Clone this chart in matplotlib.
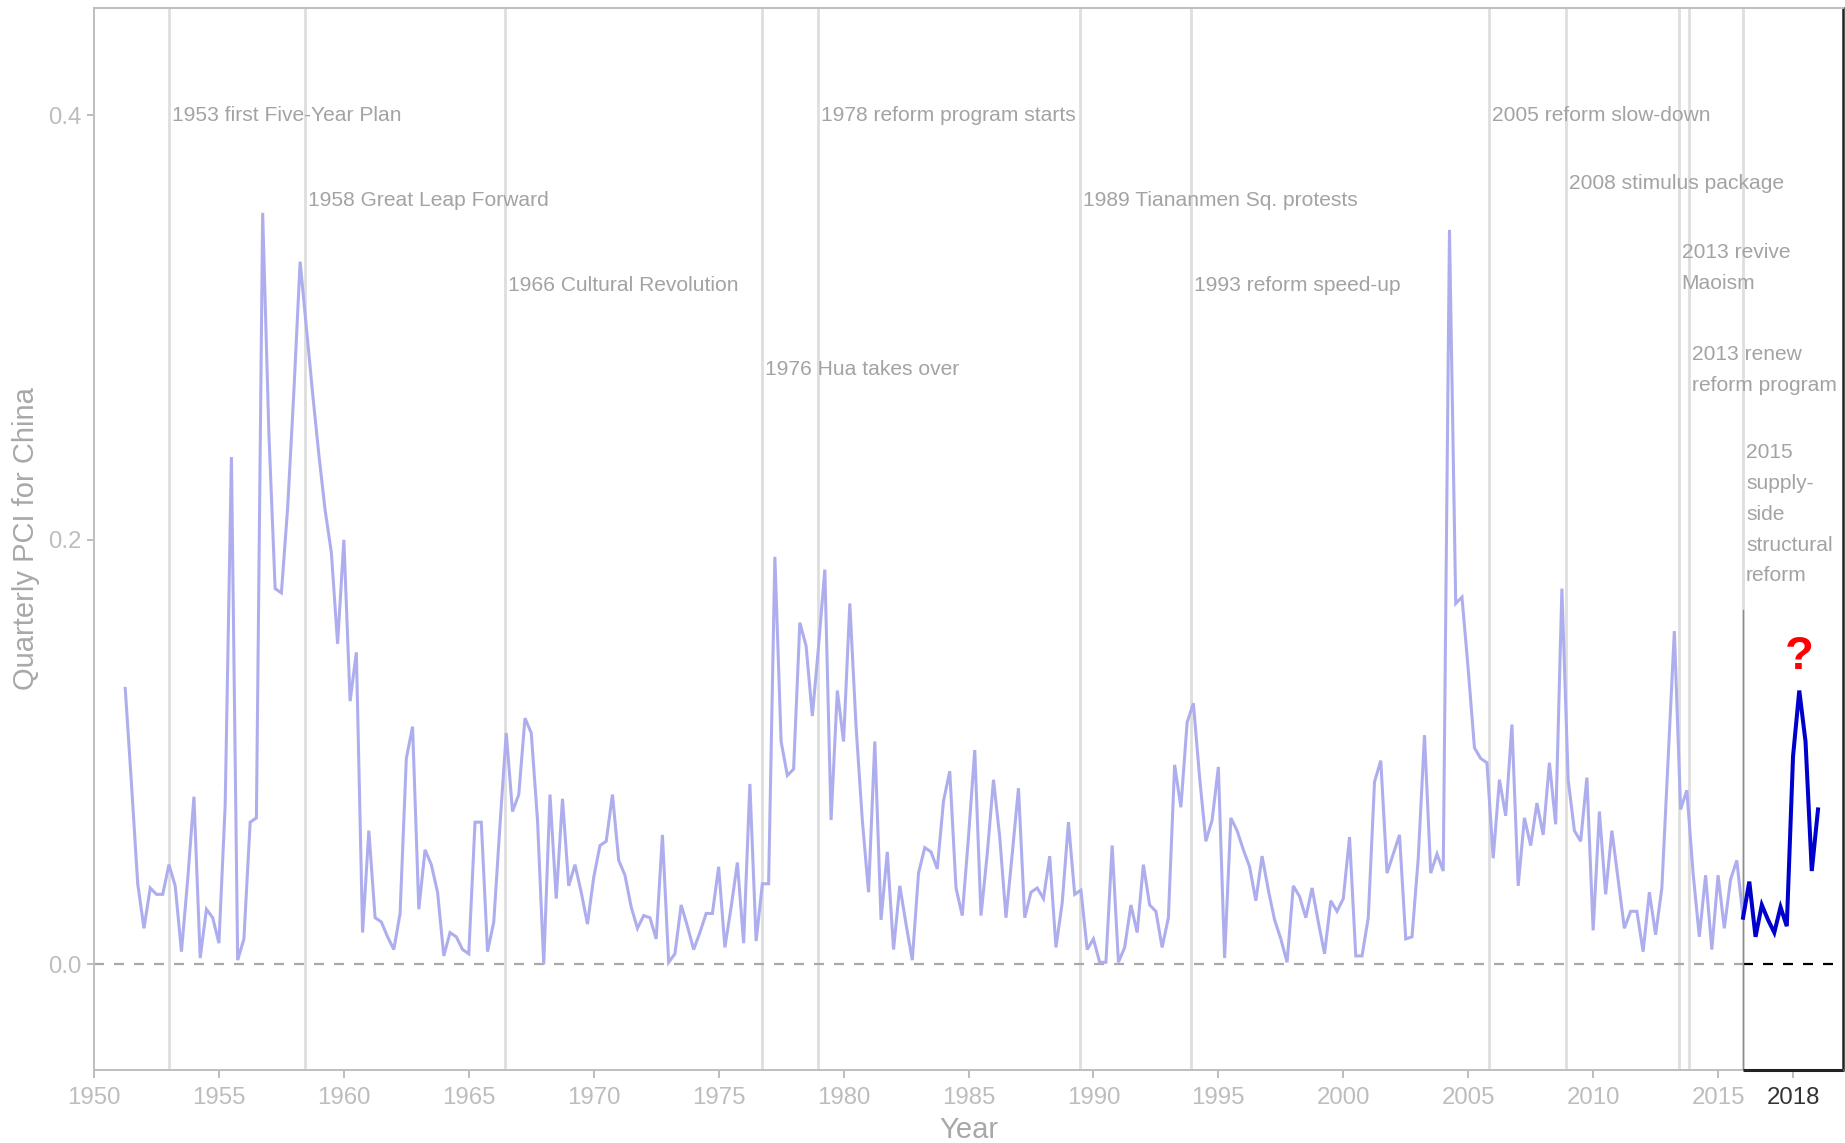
import numpy as np
import matplotlib
matplotlib.use("Agg")
import matplotlib.pyplot as plt

plt.rcParams['font.family'] = ['Liberation Sans', 'DejaVu Sans']

# ---------------- data ----------------
start_year = 1951.25          # first quarter of the historical series
pci_1950s = [0.130, 0.085, 0.038,
             0.017, 0.036, 0.033, 0.033,
             0.047, 0.037, 0.006, 0.040,
             0.079, 0.003, 0.026, 0.022,
             0.010, 0.075, 0.239, 0.002,
             0.012, 0.067, 0.069, 0.354,
             0.250, 0.177, 0.175, 0.215,
             0.270, 0.331, 0.300, 0.269,
             0.240, 0.214, 0.194, 0.151]
pci_1960s = [0.200, 0.124, 0.147, 0.015,
             0.063, 0.022, 0.020, 0.013,
             0.007, 0.024, 0.097, 0.112,
             0.026, 0.054, 0.047, 0.034,
             0.004, 0.015, 0.013, 0.007,
             0.005, 0.067, 0.067, 0.006,
             0.020, 0.066, 0.109, 0.072,
             0.080, 0.116, 0.109, 0.068,
             0.000, 0.080, 0.031, 0.078,
             0.037, 0.047, 0.034, 0.019]
pci_1970s = [0.041, 0.056, 0.058, 0.080,
             0.049, 0.042, 0.027, 0.017,
             0.023, 0.022, 0.012, 0.061,
             0.001, 0.005, 0.028, 0.018,
             0.007, 0.015, 0.024, 0.024,
             0.046, 0.008, 0.027, 0.048,
             0.010, 0.085, 0.011, 0.038,
             0.038, 0.192, 0.105, 0.089,
             0.092, 0.161, 0.150, 0.117,
             0.150, 0.186, 0.068, 0.129]
pci_1980s = [0.105, 0.170, 0.112, 0.068,
             0.034, 0.105, 0.021, 0.053,
             0.007, 0.037, 0.019, 0.002,
             0.043, 0.055, 0.053, 0.045,
             0.077, 0.091, 0.036, 0.023,
             0.060, 0.101, 0.023, 0.052,
             0.087, 0.060, 0.022, 0.052,
             0.083, 0.022, 0.034, 0.036,
             0.031, 0.051, 0.008, 0.029,
             0.067, 0.033, 0.035, 0.007]
pci_1990s = [0.012, 0.001, 0.001, 0.056,
             0.001, 0.008, 0.028, 0.015,
             0.047, 0.028, 0.025, 0.008,
             0.022, 0.094, 0.074, 0.114,
             0.123, 0.088, 0.058, 0.068,
             0.093, 0.003, 0.069, 0.063,
             0.054, 0.046, 0.030, 0.051,
             0.035, 0.021, 0.012, 0.001,
             0.037, 0.032, 0.022, 0.036,
             0.020, 0.005, 0.030, 0.025]
pci_2000s = [0.031, 0.060, 0.004, 0.004,
             0.022, 0.086, 0.096, 0.043,
             0.052, 0.061, 0.012, 0.013,
             0.050, 0.108, 0.043, 0.052,
             0.044, 0.346, 0.170, 0.173,
             0.139, 0.102, 0.097, 0.095,
             0.050, 0.087, 0.070, 0.113,
             0.037, 0.069, 0.056, 0.076,
             0.061, 0.095, 0.066, 0.177,
             0.087, 0.063, 0.058, 0.088]
pci_2010s = [0.016, 0.072, 0.033, 0.063,
             0.040, 0.017, 0.025, 0.025,
             0.006, 0.034, 0.014, 0.036,
             0.096, 0.157, 0.073, 0.082,
             0.043, 0.013, 0.042, 0.007,
             0.042, 0.017, 0.040, 0.049,
             0.022]

forecast_start = 2016.0
pci_recent = [0.022, 0.039, 0.013, 0.028,
              0.021, 0.015, 0.027, 0.018,
              0.098, 0.129, 0.105, 0.044,
              0.073]

event_years = [1953.0, 1958.45, 1966.45, 1976.75, 1978.98, 1989.45,
               1993.9, 2005.85, 2008.9, 2013.42, 2013.82, 2016.0]
event_labels = ["1953 first Five-Year Plan", "1958 Great Leap Forward",
                "1966 Cultural Revolution", "1976 Hua takes over",
                "1978 reform program starts", "1989 Tiananmen Sq. protests",
                "1993 reform speed-up", "2005 reform slow-down",
                "2008 stimulus package", "2013 revive\nMaoism",
                "2013 renew\nreform program",
                "2015\nsupply-\nside\nstructural\nreform"]

x_ticks = [1950, 1955, 1960, 1965, 1970, 1975, 1980, 1985, 1990, 1995,
           2000, 2005, 2010, 2015, 2018]
y_ticks = [0.0, 0.2, 0.4]
y_tick_labels = ["0.0", "0.2", "0.4"]

# ---------------- layout / style ----------------
label_y = [0.40, 0.36, 0.32, 0.28, 0.40, 0.36, 0.32, 0.40, 0.368, 0.328, 0.28, 0.212]
x_lim = (1950, 2020)
y_lim = (-0.0495, 0.4505)
box_top = 0.167
question_y = 0.145
question_x_offset = 0.25

light_col = "#AEAEEE"
dark_col = "#0000CD"
vline_col = "#DEDEDE"
ann_col = "#A3A3A3"
tick_col = "#BDBDBD"
title_col = "#A8A8A8"
spine_col = "#BEBEBE"

hist = np.array(pci_1950s + pci_1960s + pci_1970s + pci_1980s +
                pci_1990s + pci_2000s + pci_2010s)
hist_x = start_year + 0.25 * np.arange(len(hist))
rec = np.array(pci_recent)
rec_x = forecast_start + 0.25 * np.arange(len(rec))

fig = plt.figure(figsize=(18.45, 11.43), dpi=100)
ax = fig.add_axes([94 / 1845, 1 - 1069.5 / 1143, (1843 - 94) / 1845, (1069.5 - 8) / 1143])
ax.set_xlim(*x_lim)
ax.set_ylim(*y_lim)

# event lines
for yr in event_years:
    ax.axvline(yr, color=vline_col, lw=2.0, zorder=1)

# zero lines
ax.plot([x_lim[0], forecast_start], [0, 0], color="#A9A9A9", lw=1.6,
        ls=(0, (4.5, 4.5)), zorder=2)
ax.plot([forecast_start, x_lim[1]], [0, 0], color="black", lw=1.6,
        ls=(0, (4.5, 4.5)), zorder=2)

# box marking the recent period
ax.plot([forecast_start, forecast_start], [y_lim[0], box_top], color="#8C8C8C",
        lw=1.0, zorder=3)
ax.plot([forecast_start, x_lim[1]], [y_lim[0], y_lim[0]], color="#222222",
        lw=2.2, zorder=6, clip_on=False, solid_capstyle="butt")

# series
ax.plot(hist_x, hist, color=light_col, lw=2.2, zorder=4, solid_joinstyle="miter")
ax.plot(rec_x, rec, color=dark_col, lw=2.9, zorder=5, solid_joinstyle="miter")

# annotations
for yr, lab, ly in zip(event_years, event_labels, label_y):
    ax.text(yr + 0.12, ly, lab, color=ann_col, fontsize=15.1, ha="left",
            va="center", linespacing=1.78, zorder=3)

ax.text(forecast_start + 2 + question_x_offset, question_y, "?", color="red",
        fontsize=34, fontweight="bold", ha="center", va="center", zorder=6)

# axes styling
for s in ["left", "top", "bottom"]:
    ax.spines[s].set_color(spine_col)
    ax.spines[s].set_linewidth(1.4)
ax.spines["right"].set_color("#222222")
ax.spines["right"].set_linewidth(1.8)

ax.set_xticks(x_ticks)
ax.set_xticklabels([str(t) for t in x_ticks])
ax.set_yticks(y_ticks)
ax.set_yticklabels(y_tick_labels)
ax.tick_params(axis="x", colors=tick_col, labelsize=17.3, length=6, width=1.4, pad=6.5)
ax.tick_params(axis="y", colors=tick_col, labelsize=17.3, length=5, width=1.4, pad=4)
for lbl, t in zip(ax.get_xticklabels(), x_ticks):
    if t == 2018:
        lbl.set_color("#333333")
for tl, t in zip(ax.xaxis.get_major_ticks(), x_ticks):
    if t == 2018:
        tl.tick1line.set_color("#333333")

ax.set_xlabel("Year", color=title_col, fontsize=21, labelpad=5)
ax.set_ylabel("Quarterly PCI for China", color=title_col, fontsize=21, labelpad=6)

fig.savefig("out.png", dpi=100)
